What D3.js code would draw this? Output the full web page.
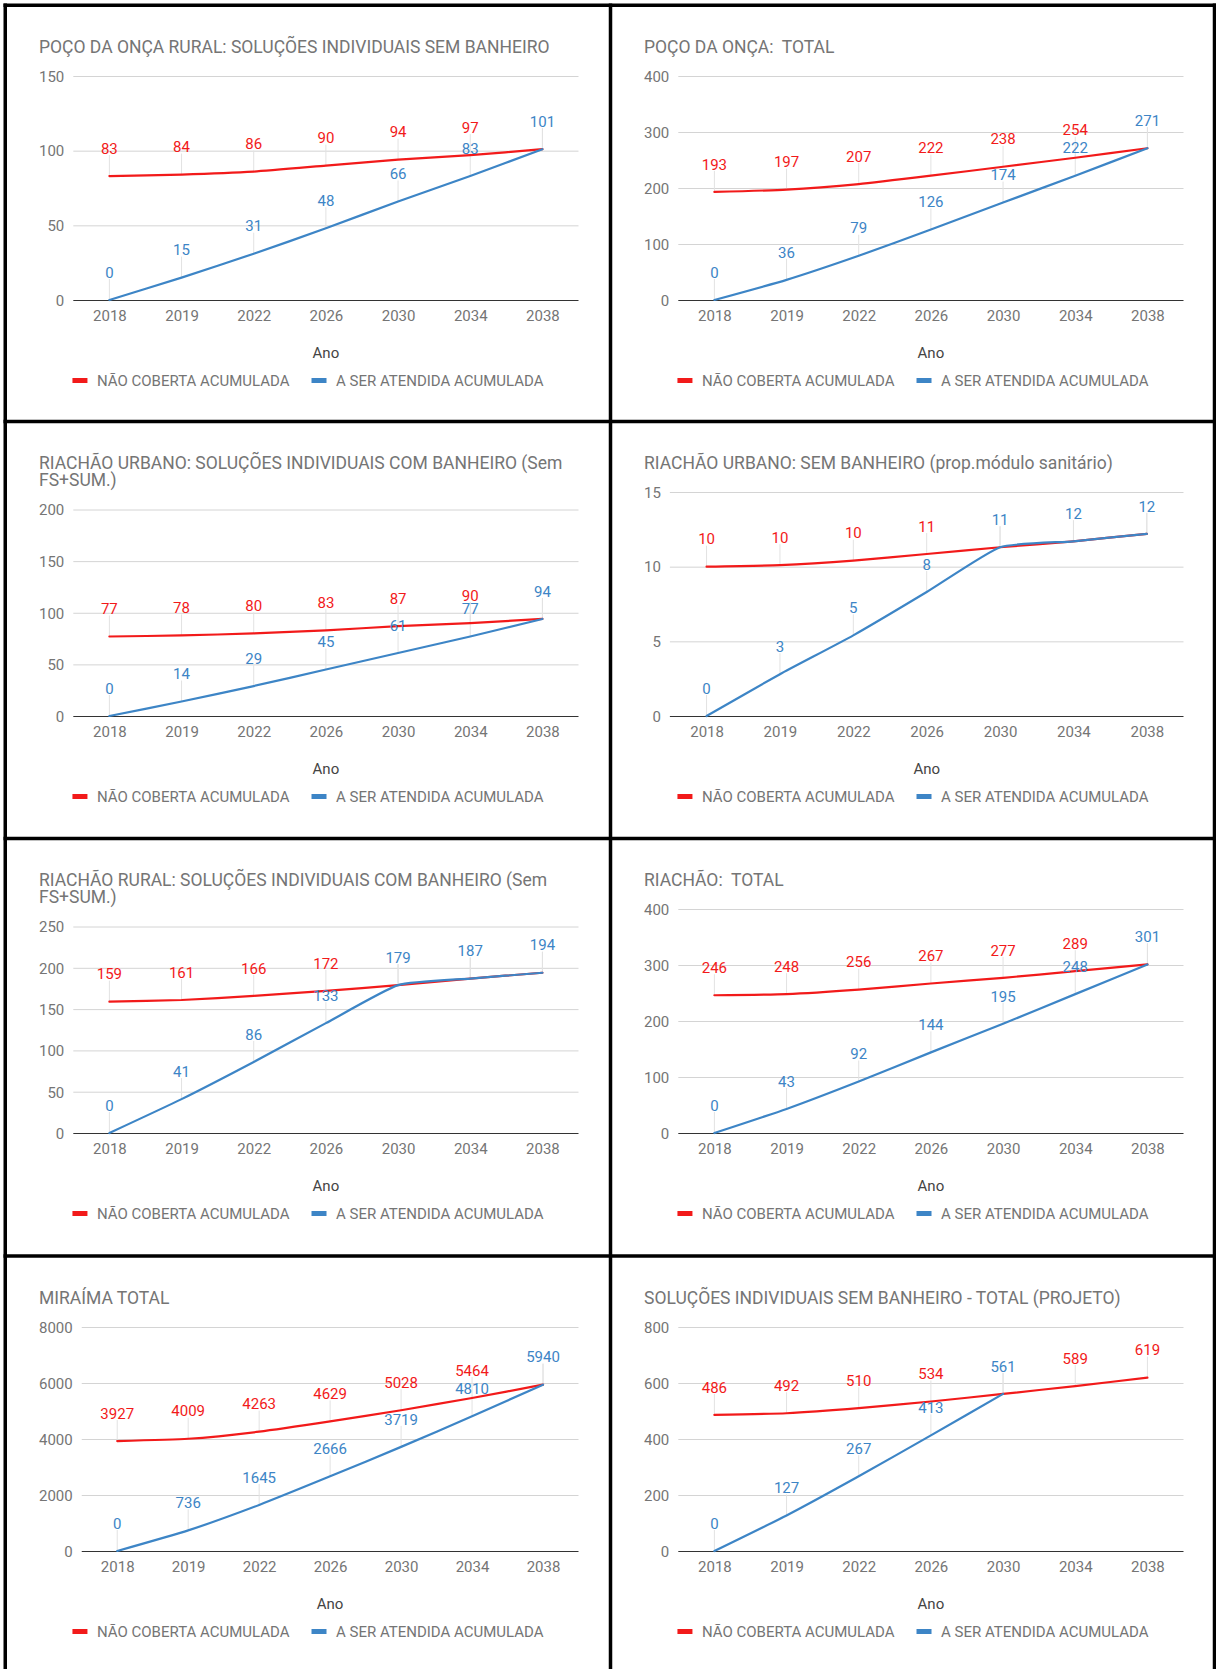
<!DOCTYPE html>
<html><head><meta charset="utf-8">
<script src="https://cdn.jsdelivr.net/npm/d3@7"></script>
<style>html,body{margin:0;padding:0;background:#fff}svg{display:block;font-family:Roboto,"Noto Sans",sans-serif}</style>
</head><body><svg id="c" width="1216" height="1669"></svg>
<script>
// ---- data ----
const years = ["2018", "2019", "2022", "2026", "2030", "2034", "2038"];
const seriesNames = ["NÃO COBERTA ACUMULADA", "A SER ATENDIDA ACUMULADA"];
const xAxisTitle = "Ano";

const title1 = ["POÇO DA ONÇA RURAL: SOLUÇÕES INDIVIDUAIS SEM BANHEIRO"];
const naoCoberta1 = [83, 84, 86, 90, 94, 97, 101];
const aSerAtendida1 = [0, 15, 31, 48, 66, 83, 101];
const yTicks1 = [0, 50, 100, 150];

const title2 = ["POÇO DA ONÇA:  TOTAL"];
const naoCoberta2 = [193, 197, 207, 222, 238, 254, 271];
const aSerAtendida2 = [0, 36, 79, 126, 174, 222, 271];
const yTicks2 = [0, 100, 200, 300, 400];

const title3 = ["RIACHÃO URBANO: SOLUÇÕES INDIVIDUAIS COM BANHEIRO (Sem", "FS+SUM.)"];
const naoCoberta3 = [77, 78, 80, 83, 87, 90, 94];
const aSerAtendida3 = [0, 14, 29, 45, 61, 77, 94];
const yTicks3 = [0, 50, 100, 150, 200];

const title4 = ["RIACHÃO URBANO: SEM BANHEIRO (prop.módulo sanitário)"];
const naoCoberta4 = [10.0, 10.1, 10.4, 10.85, 11.3, 11.7, 12.2];
const aSerAtendida4 = [0, 2.8, 5.4, 8.3, 11.3, 11.7, 12.2];
const yTicks4 = [0, 5, 10, 15];

const title5 = ["RIACHÃO RURAL: SOLUÇÕES INDIVIDUAIS COM BANHEIRO (Sem", "FS+SUM.)"];
const naoCoberta5 = [159, 161, 166, 172, 179, 187, 194];
const aSerAtendida5 = [0, 41, 86, 133, 179, 187, 194];
const yTicks5 = [0, 50, 100, 150, 200, 250];

const title6 = ["RIACHÃO:  TOTAL"];
const naoCoberta6 = [246, 248, 256, 267, 277, 289, 301];
const aSerAtendida6 = [0, 43, 92, 144, 195, 248, 301];
const yTicks6 = [0, 100, 200, 300, 400];

const title7 = ["MIRAÍMA TOTAL"];
const naoCoberta7 = [3927, 4009, 4263, 4629, 5028, 5464, 5940];
const aSerAtendida7 = [0, 736, 1645, 2666, 3719, 4810, 5940];
const yTicks7 = [0, 2000, 4000, 6000, 8000];

const title8 = ["SOLUÇÕES INDIVIDUAIS SEM BANHEIRO - TOTAL (PROJETO)"];
const naoCoberta8 = [486, 492, 510, 534, 561, 589, 619];
const aSerAtendida8 = [0, 127, 267, 413, 561, null, null];
const yTicks8 = [0, 200, 400, 600, 800];

const panels = [
  [title1, naoCoberta1, aSerAtendida1, yTicks1],
  [title2, naoCoberta2, aSerAtendida2, yTicks2],
  [title3, naoCoberta3, aSerAtendida3, yTicks3],
  [title4, naoCoberta4, aSerAtendida4, yTicks4],
  [title5, naoCoberta5, aSerAtendida5, yTicks5],
  [title6, naoCoberta6, aSerAtendida6, yTicks6],
  [title7, naoCoberta7, aSerAtendida7, yTicks7],
  [title8, naoCoberta8, aSerAtendida8, yTicks8]
];

// ---- drawing ----
const RED = "#f21a1a", BLUE = "#3d85c6";
const colors = [RED, BLUE];
const GRAY = "#757575";
const FS = 15, TFS = 17.5;
const svg = d3.select("#c");
const colX0 = [7, 612];
const rowY0 = [7, 423, 840, 1258];
const lbl = d3.format(".0f");

function measure(texts, size) {
  const t = svg.append("g");
  const w = texts.map(s => t.append("text").attr("font-size", size).text(s).node().getComputedTextLength());
  t.remove();
  return w;
}

panels.forEach(([title, nc, as, ticks], i) => {
  const x0 = colX0[i % 2], y0 = rowY0[Math.floor(i / 2)];
  const g = svg.append("g");

  title.forEach((line, k) => {
    g.append("text").attr("x", x0 + 32).attr("y", y0 + 39.5 + k * 17.5 + 0.355 * TFS)
      .attr("font-size", TFS).attr("fill", GRAY).style("white-space", "pre").text(line);
  });

  const top = y0 + 69 + (title.length - 1) * 17.5;
  const bottom = y0 + 293;
  const fmt = d3.format("d");
  const maxW = d3.max(measure(ticks.map(fmt), FS));
  const left = x0 + 32 + maxW + 9, right = x0 + 571.5;

  const y = d3.scaleLinear().domain([0, d3.max(ticks)]).range([bottom, top]);
  const x = d3.scalePoint().domain(years).range([left, right]).padding(0.5);

  // y axis with gridlines
  const ya = g.append("g").attr("transform", `translate(${left},0)`)
    .call(d3.axisLeft(y).tickValues(ticks).tickFormat(fmt).tickSize(-(right - left)).tickPadding(9));
  ya.attr("font-family", null).attr("font-size", null);
  ya.select(".domain").remove();
  ya.selectAll(".tick line").attr("stroke", d => d === 0 ? "#333" : "#d4d4d4").attr("stroke-width", 1);
  ya.selectAll(".tick text").attr("font-size", FS).attr("fill", GRAY).attr("dy", "0.355em");

  // x axis labels
  const xa = g.append("g").attr("transform", `translate(0,${bottom})`)
    .call(d3.axisBottom(x).tickSize(0).tickPadding(10));
  xa.attr("font-family", null).attr("font-size", null);
  xa.select(".domain").remove();
  xa.selectAll(".tick text").attr("font-size", FS).attr("fill", GRAY);

  // x axis title
  g.append("text").attr("x", (left + right) / 2).attr("y", bottom + 53 + 0.355 * FS)
    .attr("text-anchor", "middle").attr("font-size", FS).attr("fill", "#444").text(xAxisTitle);

  const series = [nc, as];
  const pts = series.map(vals => years.map((yr, j) => [yr, vals[j]]));

  // leader lines
  pts.forEach(p => {
    g.append("g").selectAll("line").data(p.filter(d => d[1] != null))
      .join("line")
      .attr("x1", d => x(d[0])).attr("x2", d => x(d[0]))
      .attr("y1", d => y(d[1])).attr("y2", d => y(d[1]) - 21)
      .attr("stroke", "#e2e2e2").attr("stroke-width", 1);
  });

  // lines
  pts.forEach((p, s) => {
    const line = d3.line()
      .defined(d => d[1] != null)
      .x(d => x(d[0])).y(d => y(d[1]))
      .curve(d3.curveCardinal.tension(0.5));
    g.append("path").datum(p)
      .attr("d", line).attr("fill", "none").attr("stroke", colors[s])
      .attr("stroke-width", 2.2).attr("stroke-linejoin", "round").attr("stroke-linecap", "round");
  });

  // data labels (a red label exactly covered by an identical blue one is not drawn twice)
  pts.forEach((p, s) => {
    const data = p.filter((d, j) => d[1] != null &&
      !(s === 0 && as[j] != null && lbl(as[j]) === lbl(d[1])));
    g.append("g").selectAll("text").data(data)
      .join("text")
      .attr("x", d => x(d[0])).attr("y", d => y(d[1]) - 22.3)
      .attr("text-anchor", "middle").attr("font-size", FS).attr("fill", colors[s])
      .text(d => lbl(d[1]));
  });

  // legend
  const lw = measure(seriesNames, FS);
  const total = 15 + 9.5 + lw[0] + 22 + 15 + 9.5 + lw[1];
  const cx = x0 + 301;
  let lx = cx - total / 2;
  const ly = bottom + 80.5;
  seriesNames.forEach((name, s) => {
    g.append("rect").attr("x", lx).attr("y", ly - 2.5).attr("width", 15).attr("height", 5).attr("fill", colors[s]);
    g.append("text").attr("x", lx + 24.5).attr("y", ly + 0.355 * FS).attr("font-size", FS).attr("fill", GRAY).text(name);
    lx += 24.5 + lw[s] + 22;
  });
});

// panel borders
const B = svg.append("g").attr("stroke", "#000").attr("stroke-width", 3.5);
[5.25, 610.5, 1214.5].forEach(xv => B.append("line").attr("x1", xv).attr("x2", xv).attr("y1", 3.5).attr("y2", 1669));
[5.25, 421.5, 838.5, 1256].forEach(yv => B.append("line").attr("x1", 3.5).attr("x2", 1216).attr("y1", yv).attr("y2", yv));
</script>
</body></html>
